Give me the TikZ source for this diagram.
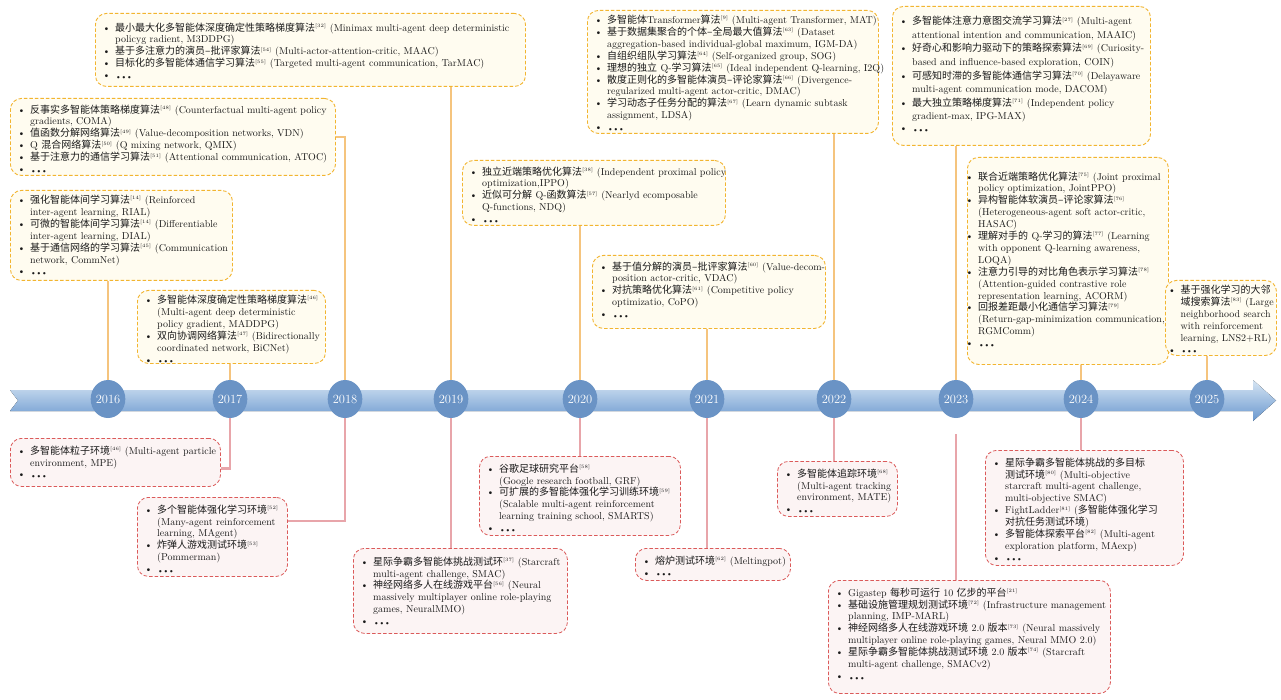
\documentclass[tikz,border=0pt]{standalone}
\usepackage{fontspec}
\newfontfamily\cjkf{Noto Sans CJK SC}
\usetikzlibrary{shapes.geometric}
\definecolor{topborder}{HTML}{F2B530}
\definecolor{topfill}{HTML}{FFFCF0}
\definecolor{toplinec}{HTML}{F5C47E}
\definecolor{botborder}{HTML}{DB5A5A}
\definecolor{botfill}{HTML}{FCF4F4}
\definecolor{botlinec}{HTML}{E8A5AA}
\definecolor{circc}{HTML}{6A93C5}
\definecolor{bandtop}{HTML}{D6E5F3}
\definecolor{bandbot}{HTML}{6A98CF}
\definecolor{textc}{HTML}{1A1A1A}
\newcommand\zh[1]{{\cjkf #1}}
\newcommand\rf[1]{\textsuperscript{\fontsize{5}{5}\selectfont[#1]}}
\newcommand\itm{\par\hangindent=12.5pt\hangafter=1\noindent\hbox to 12.5pt{\textbullet\hfil}}
\newcommand\dts{\raisebox{-0.6pt}{\fontsize{8}{8}\selectfont\textbullet\kern-1.1pt\textbullet\kern-1.1pt\textbullet}}
% #1 name, #2 style, #3 x, #4 y, #5 w, #6 h, #7 dx, #8 dy, #9 content
\newcommand\tbox[9]{%
  \node[#2, anchor=north west, minimum width=#5, minimum height=#6] (#1) at (#3,#4) {};
  \node[txt, anchor=north west] (#1T) at ([xshift=#7pt,yshift=-#8pt]#1.north west) {#9};
}
\begin{document}
\begin{tikzpicture}[x=1pt,y=-1pt,
  topbox/.style={draw=topborder, fill=topfill, line width=0.9pt, dash pattern=on 3.5pt off 2pt, rounded corners=11pt, inner sep=0pt},
  botbox/.style={draw=botborder, fill=botfill, line width=0.8pt, dash pattern=on 3.5pt off 2pt, rounded corners=11pt, inner sep=0pt},
  txt/.style={inner sep=0pt, align=left, text width=600pt, font=\fontsize{10}{11.9}\selectfont, text=textc},
  yr/.style={ellipse, fill=circc, minimum width=34pt, minimum height=38pt, inner sep=0pt, text=white, font=\fontsize{12.5}{13}\selectfont},
  tl/.style={draw=toplinec, line width=2.6pt},
  bl/.style={draw=botlinec, line width=2.2pt},
]
\useasboundingbox (0,0) rectangle (1281,700);
\fill[white] (0,0) rectangle (1281,700);

% ---------- top boxes ----------
\tbox{A}{topbox}{95}{13}{430}{73}{7.5}{6}{%
\itm\zh{最小最大化多智能体深度确定性策略梯度算法}\rf{32} (Minimax multi-agent deep deterministic\newline policyg radient, M3DDPG)
\itm\zh{基于多注意力的演员–批评家算法}\rf{54} (Multi-actor-attention-critic, MAAC)
\itm\zh{目标化的多智能体通信学习算法}\rf{55} (Targeted multi-agent communication, TarMAC)
\itm\dts}

\tbox{B2}{topbox}{10}{98}{325}{77}{7.5}{3}{%
\itm\zh{反事实多智能体策略梯度算法}\rf{48} (Counterfactual multi-agent policy\newline gradients, COMA)
\itm\zh{值函数分解网络算法}\rf{49} (Value-decomposition networks, VDN)
\itm Q \zh{混合网络算法}\rf{50} (Q mixing network, QMIX)
\itm\zh{基于注意力的通信学习算法}\rf{51} (Attentional communication, ATOC)
\itm\dts}

\tbox{B3}{topbox}{10}{190}{222}{90}{7.5}{1.5}{%
\itm\zh{强化智能体间学习算法}\rf{14} (Reinforced\newline inter-agent learning, RIAL)
\itm\zh{可微的智能体间学习算法}\rf{14} (Differentiable\newline inter-agent learning, DIAL)
\itm\zh{基于通信网络的学习算法}\rf{45} (Communication\newline network, CommNet)
\itm\dts}

\tbox{B4}{topbox}{137}{290}{188}{73}{7.5}{1.5}{%
\itm\zh{多智能体深度确定性策略梯度算法}\rf{46}\newline (Multi-agent deep deterministic\newline policy gradient, MADDPG)
\itm\zh{双向协调网络算法}\rf{47} (Bidirectionally\newline coordinated network, BiCNet)
\itm\dts}

\tbox{B5}{topbox}{462}{160}{263}{65}{7.5}{3}{%
\itm\zh{独立近端策略优化算法}\rf{38} (Independent proximal policy\newline optimization,IPPO)
\itm\zh{近似可分解} Q-\zh{函数算法}\rf{57} (Nearlyd ecomposable\newline Q-functions, NDQ)
\itm\dts}

\tbox{B6}{topbox}{587}{10}{291}{123}{7.5}{1.5}{%
\itm\zh{多智能体}Transformer\zh{算法}\rf{9} (Multi-agent Transformer, MAT)
\itm\zh{基于数据集聚合的个体–全局最大值算法}\rf{63} (Dataset\newline aggregation-based individual-global maximum, IGM-DA)
\itm\zh{自组织组队学习算法}\rf{64} (Self-organized group, SOG)
\itm\zh{理想的独立} Q-\zh{学习算法}\rf{65} (Ideal independent Q-learning, I2Q)
\itm\zh{散度正则化的多智能体演员–评论家算法}\rf{66} (Divergence-\newline regularized multi-agent actor-critic, DMAC)
\itm\zh{学习动态子任务分配的算法}\rf{67} (Learn dynamic subtask\newline assignment, LDSA)
\itm\dts}

\tbox{B7}{topbox}{592}{255}{233}{73}{7.5}{3}{%
\itm\zh{基于值分解的演员–批评家算法}\rf{60} (Value-decom-\newline position actor-critic, VDAC)
\itm\zh{对抗策略优化算法}\rf{61} (Competitive policy\newline optimizatio, CoPO)
\itm\dts}

\tbox{B8}{topbox}{892}{6}{258}{139}{7.5}{5}{\fontsize{10}{13.6}\selectfont
\itm\zh{多智能体注意力意图交流学习算法}\rf{27} (Multi-agent\newline attentional intention and communication, MAAIC)
\itm\zh{好奇心和影响力驱动下的策略探索算法}\rf{69} (Curiosity-\newline based and influence-based exploration, COIN)
\itm\zh{可感知时滞的多智能体通信学习算法}\rf{70} (Delayaware\newline multi-agent communication mode, DACOM)
\itm\zh{最大独立策略梯度算法}\rf{71} (Independent policy\newline gradient-max, IPG-MAX)
\itm\dts}

\tbox{B9}{topbox}{967}{157}{201}{207}{-1.5}{11}{%
\itm\zh{联合近端策略优化算法}\rf{75} (Joint proximal\newline policy optimization, JointPPO)
\itm\zh{异构智能体软演员–评论家算法}\rf{76}\newline (Heterogeneous-agent soft actor-critic,\newline HASAC)
\itm\zh{理解对手的} Q-\zh{学习的算法}\rf{77} (Learning\newline with opponent Q-learning awareness,\newline LOQA)
\itm\zh{注意力引导的对比角色表示学习算法}\rf{78}\newline (Attention-guided contrastive role\newline representation learning, ACORM)
\itm\zh{回报差距最小化通信学习算法}\rf{79}\newline (Return-gap-minimization communication,\newline RGMComm)
\itm\dts}

\tbox{B10}{topbox}{1165}{280}{111}{75}{3}{1.5}{%
\itm\zh{基于强化学习的大邻}\newline\zh{域搜索算法}\rf{83} (Large\newline neighborhood search\newline with reinforcement\newline learning, LNS2+RL)
\itm\dts}

% ---------- bottom boxes ----------
\tbox{C1}{botbox}{10}{438}{210}{48}{7.5}{4}{%
\itm\zh{多智能体粒子环境}\rf{46} (Multi-agent particle\newline environment, MPE)
\itm\dts}

\tbox{C2}{botbox}{137}{497}{150}{79}{7.5}{4}{%
\itm\zh{多个智能体强化学习环境}\rf{52}\newline (Many-agent reinforcement\newline learning, MAgent)
\itm\zh{炸弹人游戏测试环境}\rf{53}\newline (Pommerman)
\itm\dts}

\tbox{C3}{botbox}{353}{548}{214}{85}{7.5}{5}{%
\itm\zh{星际争霸多智能体挑战测试环}\rf{37} (Starcraft\newline multi-agent challenge, SMAC)
\itm\zh{神经网络多人在线游戏平台}\rf{56} (Neural\newline massively multiplayer online role-playing\newline games, NeuralMMO)
\itm\dts}

\tbox{C4}{botbox}{479}{456}{201}{79}{7.5}{4}{%
\itm\zh{谷歌足球研究平台}\rf{58}\newline (Google research football, GRF)
\itm\zh{可扩展的多智能体强化学习训练环境}\rf{59}\newline (Scalable multi-agent reinforcement\newline learning training school, SMARTS)
\itm\dts}

\tbox{C5}{botbox}{635}{548}{155}{32}{7.5}{4}{%
\itm\zh{熔炉测试环境}\rf{62} (Meltingpot)
\itm\dts}

\tbox{C6}{botbox}{777}{461}{120}{55}{7.5}{4}{%
\itm\zh{多智能体追踪环境}\rf{68}\newline (Multi-agent tracking\newline environment, MATE)
\itm\dts}

\tbox{C7}{botbox}{985}{450}{198}{115}{7.5}{4}{%
\itm\zh{星际争霸多智能体挑战的多目标}\newline\zh{测试环境}\rf{80} (Multi-objective\newline starcraft multi-agent challenge,\newline multi-objective SMAC)
\itm FightLadder\rf{81} (\zh{多智能体强化学习}\newline\zh{对抗任务测试环境})
\itm\zh{多智能体探索平台}\rf{82} (Multi-agent\newline exploration platform, MAexp)
\itm\dts}

\tbox{C8}{botbox}{828}{580}{282}{113}{7.5}{4}{%
\itm Gigastep \zh{每秒可运行} 10 \zh{亿步的平台}\rf{21}
\itm\zh{基础设施管理规划测试环境}\rf{72} (Infrastructure management\newline planning, IMP-MARL)
\itm\zh{神经网络多人在线游戏环境} 2.0 \zh{版本}\rf{73} (Neural massively\newline multiplayer online role-playing games, Neural MMO 2.0)
\itm\zh{星际争霸多智能体挑战测试环境} 2.0 \zh{版本}\rf{74} (Starcraft\newline multi-agent challenge, SMACv2)
\itm\dts}

% ---------- timeline ----------
\fill[top color=bandtop, bottom color=bandbot] (10,390) -- (1253,390) -- (1253,380) -- (1276,400.5) -- (1253,421) -- (1253,411) -- (10,411) -- (18,400.5) -- cycle;

\node[yr] (y2016) at (108,399) {2016};
\node[yr] (y2017) at (230,399) {2017};
\node[yr] (y2018) at (345,399) {2018};
\node[yr] (y2019) at (451,399) {2019};
\node[yr] (y2020) at (580,399) {2020};
\node[yr] (y2021) at (707,399) {2021};
\node[yr] (y2022) at (834,399) {2022};
\node[yr] (y2023) at (956,399) {2023};
\node[yr] (y2024) at (1081,399) {2024};
\node[yr] (y2025) at (1207,399) {2025};
\coordinate (g2023) at ([yshift=-16pt]y2023.south);

% ---------- connectors ----------
\draw[tl] (y2016.north) -- (y2016.north |- B3.south);
\draw[tl] (y2017.north) -- (y2017.north |- B4.south);
\draw[tl] (y2018.north) |- (B2.east);
\draw[tl] (y2019.north) -- (y2019.north |- A.south);
\draw[tl] (y2020.north) -- (y2020.north |- B5.south);
\draw[tl] (y2021.north) -- (y2021.north |- B7.south);
\draw[tl] (y2022.north) -- (y2022.north |- B6.south);
\draw[tl] (y2023.north) -- (y2023.north |- B8.south);
\draw[tl] (y2024.north) -- (y2024.north |- B9.south);
\draw[tl] (y2025.north) -- (y2025.north |- B10.south);

\draw[bl] (y2017.south) |- ([yshift=-6pt]C1.east);
\draw[bl] (y2018.south) |- ([yshift=16pt]C2.east);
\draw[bl] (y2019.south) -- (y2019.south |- C3.north);
\draw[bl] (y2020.south) -- (y2020.south |- C4.north);
\draw[bl] (y2021.south) -- (y2021.south |- C5.north);
\draw[bl] (y2022.south) -- (y2022.south |- C6.north);
\draw[bl] (g2023) -- (g2023 |- C8.north);
\draw[bl] (y2024.south) -- (y2024.south |- C7.north);
\end{tikzpicture}
\end{document}
